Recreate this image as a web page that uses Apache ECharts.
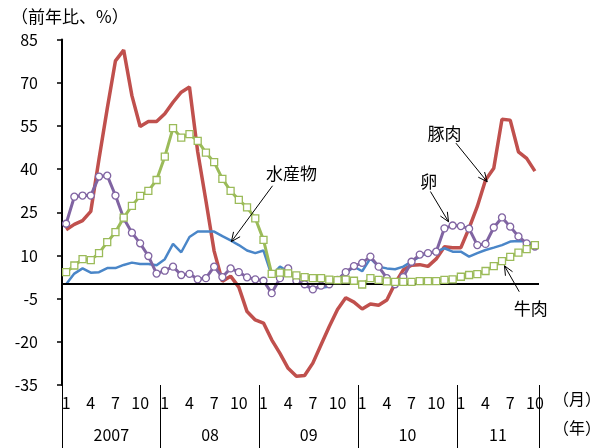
<!DOCTYPE html>
<html>
<head>
<meta charset="utf-8">
<script src="https://cdn.jsdelivr.net/npm/echarts@6/dist/echarts.min.js"></script>
<style>html,body{margin:0;padding:0;background:#fff}#c{width:596px;height:448px}</style>
</head>
<body>
<div id="c"></div>
<script>
// months 2007-01 .. 2011-10
const months = [];
for (let y = 2007; y <= 2011; y++) {
  for (let m = 1; m <= 12; m++) {
    if (y === 2011 && m > 10) break;
    months.push(y + '-' + m);
  }
}
const monthTicks = ['1', '4', '7', '10'];
const yearLabels = ['2007', '08', '09', '10', '11'];
const yTicks = [-35, -20, -5, 10, 25, 40, 55, 70, 85];

const pork = [18.9, 20.8, 22.1, 25.3, 43.5, 61, 77.6, 81.3, 65.5, 54.8, 56.5, 56.5,
  59.2, 63.2, 66.7, 68.5, 46, 29, 11.5, 1, 2.8, -1, -9.5, -12.4,
  -13.5, -19.3, -24, -29.2, -32, -31.7, -27.4, -21, -14.7, -8.8, -4.7, -6.2,
  -8.6, -6.9, -7.3, -5.5, 0.3, 5, 6.6, 6.8, 6.2, 8.8, 13, 12.7,
  12.7, 19.5, 27, 36.2, 40.3, 57.3, 57, 46, 43.7, 39.3];
const beef = [4.2, 6.5, 8.7, 8.4, 10.8, 14.6, 18.1, 23.1, 27.2, 30.7, 32.4, 36.2,
  44.3, 54.2, 50.9, 52.1, 49.8, 45.7, 42.4, 36.6, 32.4, 29.3, 26.7, 22.9,
  15.4, 3.6, 4.0, 3.8, 3.1, 2.5, 2.1, 2.1, 1.6, 1.4, 1.6, 1.2,
  -0.1, 2.1, 1.5, 1.0, 0.8, 0.8, 0.8, 1.1, 1.1, 1.1, 1.5, 1.7,
  2.6, 3.2, 3.5, 4.6, 6.3, 8.0, 9.5, 11.0, 12.2, 13.6];
const egg = [21, 30.4, 30.8, 30.8, 37.4, 37.7, 30.8, 22.9, 17.9, 14.2, 9.8, 3.7,
  4.7, 6.1, 3.2, 3.6, 1.7, 2.1, 6.1, 2.5, 5.5, 4.2, 2.4, 1.7,
  1.2, -3.1, 2.1, 5.5, 1.2, 0, -1.8, -0.5, 0, 1.5, 4.2, 6.3,
  7.4, 9.6, 6.1, 2.1, 0, 2.5, 7.8, 10.3, 10.8, 11.3, 19.4, 20.4,
  20.2, 19.3, 13.6, 14.0, 19.7, 23.2, 20, 16.6, 14.2, 13.1];
const fish = [0, 3.7, 5.5, 4.0, 4.2, 5.6, 5.6, 6.7, 7.5, 7.0, 7.0, 6.6,
  8.7, 14, 11.1, 16.4, 18.3, 18.3, 18.3, 16.7, 15.2, 13.6, 11.7, 10.8,
  11.7, 3.0, 6.1, 4.4, 1.5, -0.6, -1.4, -1.2, -0.8, 1.7, 3.8, 6.1,
  4.5, 9.0, 6.1, 5.5, 5.2, 6.1, 7.9, 9.6, 11.0, 11.3, 12.5, 11.3,
  11.3, 9.6, 10.8, 11.9, 12.7, 13.6, 14.8, 15.0, 14.8, 13.5];

// annotation: name, arrow start (x,y), arrow end (x,y), label (x,y) in month-units / %
const annNames = ['水産物', '豚肉', '卵', '牛肉'];
const annArrowFrom = [[25.6, 34.2], [47.9, 49.0], [44.8, 32.2], [55.6, -2.6]];
const annArrowTo = [[20.6, 14.8], [51.7, 35.6], [47.0, 21.7], [53.8, 6.4]];
const annLabelAt = [[27.9, 38.6], [46.5, 52.5], [44.6, 35.5], [57.0, -8.6]];

const FONT = '"Noto Sans CJK JP", "Noto Sans", sans-serif';
const yearCenters = {};
(function () {
  let start = 0;
  for (let k = 0; k < yearLabels.length; k++) {
    const len = Math.min(12, months.length - start);
    yearCenters[start + len / 2] = yearLabels[k];
    start += len;
  }
})();

const chart = echarts.init(document.getElementById('c'), null, { renderer: 'canvas' });

const annData = annNames.map((n, i) => [annArrowFrom[i][0], annArrowFrom[i][1], annArrowTo[i][0], annArrowTo[i][1], annLabelAt[i][0], annLabelAt[i][1]]);

chart.setOption({
  animation: false,
  backgroundColor: '#fff',
  textStyle: { fontFamily: FONT },
  grid: { left: 62, right: 57, top: 39.5, bottom: 63 },
  xAxis: [
    {
      type: 'category', data: months, boundaryGap: true, position: 'bottom',
      axisLine: { show: false, onZero: false }, axisTick: { show: false },
      axisLabel: {
        interval: (i) => i % 3 === 0,
        formatter: (v) => String(Number(v.split('-')[1])),
        color: '#000', fontSize: 16, margin: 10, fontFamily: FONT
      },
      splitLine: { show: false }
    },
    {
      type: 'value', min: 0, max: months.length, interval: 12, position: 'bottom',
      axisLine: { show: false, onZero: false },
      axisTick: { show: true, length: 63, lineStyle: { color: '#000', width: 1 } },
      axisLabel: { show: false }, splitLine: { show: false }
    },
    {
      type: 'value', min: 0, max: months.length, interval: 1, position: 'bottom',
      axisLine: { show: false, onZero: false }, axisTick: { show: false },
      axisLabel: {
        formatter: (v) => yearCenters[v] || '',
        color: '#000', fontSize: 16, margin: 42, fontFamily: FONT,
        showMinLabel: false, showMaxLabel: false
      },
      splitLine: { show: false }
    }
  ],
  yAxis: {
    type: 'value', min: yTicks[0], max: yTicks[yTicks.length - 1], interval: yTicks[1] - yTicks[0],
    axisLine: { show: true, onZero: false, lineStyle: { color: '#000', width: 2 } },
    axisTick: { show: true, inside: false, length: 5, lineStyle: { color: '#000', width: 1.5 } },
    axisLabel: { color: '#000', fontSize: 16, margin: 24, fontFamily: FONT },
    splitLine: { show: false }
  },
  graphic: [
    { type: 'text', left: 11, top: 8, style: { text: '（前年比、%）', font: '17px ' + FONT, fill: '#000' } },
    { type: 'text', left: 553, top: 391, style: { text: '（月）', font: '16px ' + FONT, fill: '#000' } },
    { type: 'text', left: 553, top: 420, style: { text: '（年）', font: '16px ' + FONT, fill: '#000' } }
  ],
  series: [
    {
      name: '豚肉', type: 'line', data: pork, xAxisIndex: 0, symbol: 'none',
      lineStyle: { color: '#C0504D', width: 3.5 }, z: 2,
      markLine: {
        silent: true, symbol: ['none', 'none'], label: { show: false },
        lineStyle: { color: '#000', width: 2, type: 'solid' },
        data: [{ yAxis: 0 }]
      }
    },
    {
      name: '水産物', type: 'line', data: fish, xAxisIndex: 0, symbol: 'none',
      lineStyle: { color: '#4A86C8', width: 2.5 }, z: 3
    },
    {
      name: '卵', type: 'line', data: egg, xAxisIndex: 0, symbol: 'circle', symbolSize: 7,
      showAllSymbol: true,
      lineStyle: { color: '#8064A2', width: 3 },
      itemStyle: { color: '#fff', borderColor: '#8064A2', borderWidth: 1.3 }, z: 4
    },
    {
      name: '牛肉', type: 'line', data: beef, xAxisIndex: 0, symbol: 'rect', symbolSize: 7,
      showAllSymbol: true,
      lineStyle: { color: '#9BBB59', width: 3 },
      itemStyle: { color: '#fff', borderColor: '#9BBB59', borderWidth: 1.3 }, z: 5
    },
    {
      name: 'annotations', type: 'custom', xAxisIndex: 1, yAxisIndex: 0, z: 10, silent: true,
      data: annData,
      renderItem: function (params, api) {
        const p1 = api.coord([api.value(0), api.value(1)]);
        const p2 = api.coord([api.value(2), api.value(3)]);
        const pl = api.coord([api.value(4), api.value(5)]);
        const ang = Math.atan2(p2[1] - p1[1], p2[0] - p1[0]);
        const h = 10, sp = 0.42;
        const a1 = [p2[0] - h * Math.cos(ang - sp), p2[1] - h * Math.sin(ang - sp)];
        const a2 = [p2[0] - h * Math.cos(ang + sp), p2[1] - h * Math.sin(ang + sp)];
        return {
          type: 'group',
          children: [
            { type: 'line', shape: { x1: p1[0], y1: p1[1], x2: p2[0], y2: p2[1] }, style: { stroke: '#000', lineWidth: 1 } },
            { type: 'polyline', shape: { points: [a1, p2, a2] }, style: { stroke: '#000', lineWidth: 1, fill: null } },
            { type: 'text', x: pl[0], y: pl[1], style: { text: annNames[params.dataIndex], font: '17px ' + FONT, fill: '#000', align: 'center', verticalAlign: 'middle' } }
          ]
        };
      }
    }
  ]
});
</script>
</body>
</html>
